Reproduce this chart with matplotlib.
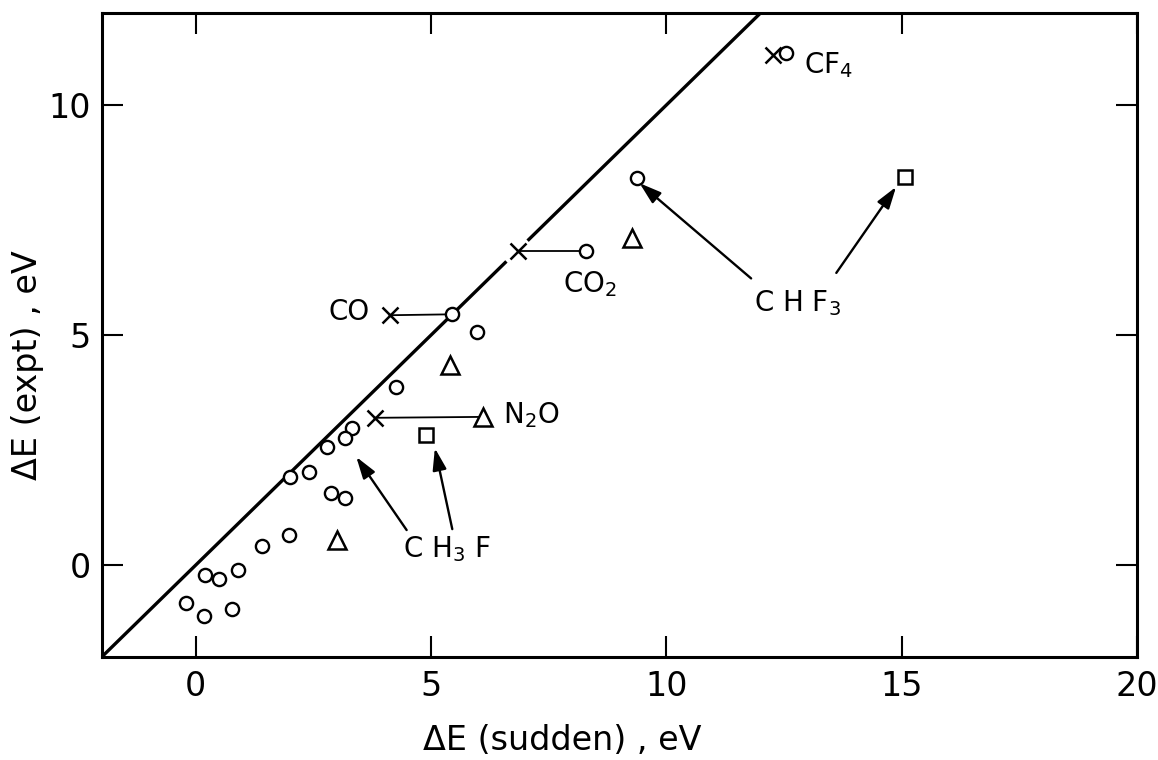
import matplotlib
matplotlib.use("Agg")
import matplotlib.pyplot as plt

plt.rcParams['font.family'] = ['DejaVu Sans']
plt.rcParams['mathtext.default'] = 'regular'

# ---------------- data ----------------
circ_x = [5.45, 5.98, 4.26, 3.31, 3.18, 2.79, 2.41, 2.00, 2.88, 3.17,
          1.98, 1.41, 0.19, 0.50, 0.89, -0.21, 0.18, 0.76, 8.30, 9.37, 12.54]
circ_y = [5.45, 5.06, 3.88, 2.97, 2.77, 2.56, 2.03, 1.91, 1.56, 1.45,
          0.65, 0.41, -0.22, -0.30, -0.11, -0.82, -1.11, -0.96, 6.83, 8.41, 11.12]
cross_x = [4.12, 3.80, 6.85, 12.26]
cross_y = [5.43, 3.20, 6.83, 11.09]
tri_x = [5.41, 6.10, 2.99, 9.27]
tri_y = [4.35, 3.22, 0.54, 7.10]
sq_x = [4.90, 15.06]
sq_y = [2.83, 8.43]

# horizontal links: (cross index, partner series, partner index)
links = [(0, 'circ', 0), (1, 'tri', 1), (2, 'circ', 18)]

# reference line y = x, drawn in pieces (gap at the CO2 cross)
diag_segments = [(-2.0, 6.6), (7.05, 12.0)]

# molecule labels: text, x, y (baseline), horizontal alignment
label_text = ['CO', 'CO$_2$', 'N$_2$O', 'C H$_3$ F', 'C H F$_3$', 'CF$_4$']
label_x = [3.70, 7.80, 6.53, 4.40, 11.87, 12.93]
label_y = [5.33, 5.94, 3.08, 0.18, 5.51, 10.69]
label_ha = ['right', 'left', 'left', 'left', 'left', 'left']

# arrows: tail (x, y) -> head (x, y)
arrow_tail_x = [4.48, 5.45, 11.80, 13.61]
arrow_tail_y = [0.76, 0.78, 6.23, 6.35]
arrow_head_x = [3.41, 5.08, 9.43, 14.88]
arrow_head_y = [2.35, 2.54, 8.30, 8.22]

xticks = [0, 5, 10, 15, 20]
yticks = [0, 5, 10]
xlim = (-2, 20)
ylim = (-2, 12)

# ---------------- figure ----------------
fig = plt.figure(figsize=(11.58, 7.6), dpi=100)
ax = fig.add_axes([0.0878, 0.1355, 0.8941, 0.8474])

for x0, x1 in diag_segments:
    ax.plot([x0, x1], [x0, x1], color='black', lw=2.4, solid_capstyle='butt', zorder=2)

series = {'circ': (circ_x, circ_y), 'tri': (tri_x, tri_y)}
for ci, name, pi in links:
    px, py = series[name]
    ax.plot([cross_x[ci], px[pi]], [cross_y[ci], py[pi]], color='black', lw=1.3, zorder=2)

ax.plot(circ_x, circ_y, linestyle='none', marker='o', ms=9.5, mfc='white',
        mec='black', mew=1.7, zorder=3)
ax.plot(cross_x, cross_y, linestyle='none', marker='x', ms=11, mec='black',
        mew=1.8, zorder=3)
ax.plot(tri_x, tri_y, linestyle='none', marker='^', ms=13, mfc='white',
        mec='black', mew=1.8, zorder=3)
ax.plot(sq_x, sq_y, linestyle='none', marker='s', ms=9.5, mfc='white',
        mec='black', mew=1.8, zorder=3)

for t, x, y, ha in zip(label_text, label_x, label_y, label_ha):
    ax.text(x, y, t, fontsize=20, ha=ha, va='baseline', zorder=4)

for tx, ty, hx, hy in zip(arrow_tail_x, arrow_tail_y, arrow_head_x, arrow_head_y):
    ax.annotate('', xy=(hx, hy), xytext=(tx, ty),
                arrowprops=dict(arrowstyle='-|>,head_length=1.1,head_width=0.35',
                                mutation_scale=12, color='black', lw=1.7,
                                shrinkA=0, shrinkB=0))

ax.set_xlim(*xlim)
ax.set_ylim(*ylim)
ax.set_xticks(xticks)
ax.set_yticks(yticks)
ax.set_xticklabels([str(v) for v in xticks])
ax.set_yticklabels([str(v) for v in yticks])
ax.tick_params(axis='both', direction='in', length=15, width=1.5,
               labelsize=24, top=True, right=True)
ax.tick_params(axis='x', pad=9)
ax.tick_params(axis='y', pad=8)
for s in ax.spines.values():
    s.set_linewidth(2.2)

fig.text(562 / 1158, 1 - 740 / 760, 'ΔE (sudden) , eV', fontsize=24,
         ha='center', va='center')
fig.text(28 / 1158, 1 - 365 / 760, 'ΔE (expt) , eV', fontsize=24,
         ha='center', va='center', rotation=90)

fig.savefig('out.png', dpi=100)
